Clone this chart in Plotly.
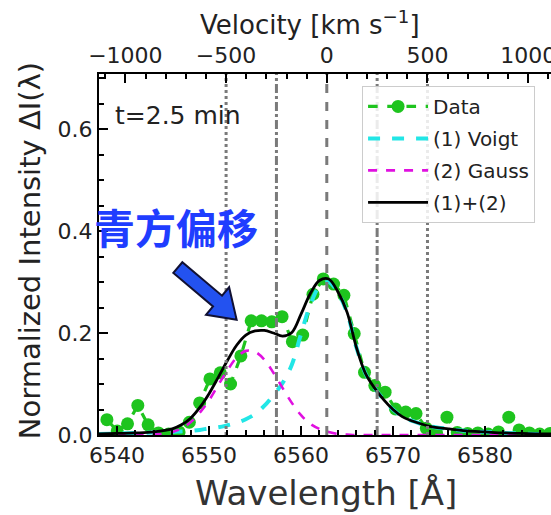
import plotly.graph_objects as go

# ---------------- data ----------------
wavelength_data = [6538.90, 6540.02, 6541.14, 6542.26, 6543.38, 6544.50, 6545.62, 6546.74,
                   6547.86, 6548.98, 6550.10, 6551.22, 6552.34, 6553.46, 6554.58, 6555.70,
                   6556.82, 6557.94, 6559.06, 6560.18, 6561.30, 6562.42, 6563.54, 6564.66,
                   6565.78, 6566.90, 6568.02, 6569.14, 6570.26, 6571.38, 6572.50, 6573.62,
                   6574.74, 6575.86, 6576.98, 6578.10, 6579.22, 6580.34, 6581.46, 6582.58,
                   6583.70, 6584.82, 6585.94, 6587.06]
intensity_data = [0.030, 0.008, 0.022, 0.058, 0.020, 0.004, 0.002, 0.006,
                  0.025, 0.063, 0.110, 0.122, 0.100, 0.155, 0.224, 0.224,
                  0.222, 0.232, 0.183, 0.196, 0.276, 0.306, 0.296, 0.274,
                  0.199, 0.123, 0.097, 0.084, 0.051, 0.045, 0.042, 0.013,
                  0.004, 0.035, 0.005, 0.003, 0.004, 0.002, 0.006, 0.035,
                  0.010, 0.004, 0.002, 0.003]

wavelength_fit = [6538, 6540, 6542, 6544, 6546, 6547, 6548, 6549, 6550, 6551, 6552, 6553,
                  6554, 6555, 6556, 6557, 6558, 6559, 6560, 6561, 6562, 6563, 6564, 6565,
                  6566, 6567, 6568, 6569, 6570, 6571, 6572, 6573, 6574, 6576, 6578, 6580,
                  6582, 6584, 6586, 6588]
voigt_fit = [0.002, 0.003, 0.004, 0.005, 0.006, 0.007, 0.008, 0.010, 0.013, 0.015, 0.019, 0.024,
             0.031, 0.041, 0.057, 0.078, 0.102, 0.138, 0.198, 0.255, 0.291, 0.300, 0.279, 0.240,
             0.173, 0.121, 0.092, 0.069, 0.050, 0.036, 0.028, 0.022, 0.017, 0.012, 0.008, 0.006,
             0.004, 0.003, 0.002, 0.002]
gauss_fit = [0.000, 0.000, 0.000, 0.001, 0.006, 0.013, 0.025, 0.044, 0.068, 0.098, 0.127, 0.152,
             0.165, 0.163, 0.148, 0.122, 0.092, 0.063, 0.039, 0.022, 0.012, 0.006, 0.002, 0.001,
             0.000, 0.000, 0.000, 0.000, 0.000, 0.000, 0.000, 0.000, 0.000, 0.000, 0.000, 0.000,
             0.000, 0.000, 0.000, 0.000]
total_fit = [0.002, 0.003, 0.004, 0.006, 0.012, 0.020, 0.033, 0.054, 0.081, 0.113, 0.146, 0.176,
             0.196, 0.204, 0.205, 0.200, 0.194, 0.201, 0.237, 0.277, 0.303, 0.306, 0.281, 0.241,
             0.173, 0.121, 0.092, 0.069, 0.050, 0.036, 0.028, 0.022, 0.017, 0.012, 0.008, 0.006,
             0.004, 0.003, 0.002, 0.002]

legend_names = ["Data", "(1) Voigt", "(2) Gauss", "(1)+(2)"]
velocity_lines = [-500, -250, 0, 250, 500]
velocity_dash = ["dot", "dashdot", "dash", "dashdot", "dot"]

x_ticks = [6540, 6550, 6560, 6570, 6580]
v_ticks = [-1000, -500, 0, 500, 1000]
y_ticks = [0.0, 0.2, 0.4, 0.6]

LAMBDA0 = 6562.8
C_KMS = 299792.458
x_range = [6538.04, 6587.17]
v_range = [(l - LAMBDA0) / LAMBDA0 * C_KMS for l in x_range]
y_range = [0, 0.708]

FONT = "DejaVu Sans"
TXT = "#222222"

fig = go.Figure()

# velocity marker lines (on the velocity axis)
for v, d in zip(velocity_lines, velocity_dash):
    fig.add_trace(go.Scatter(x=[v, v], y=y_range, xaxis="x2", mode="lines",
                             line=dict(color="#7a7a7a", width=3, dash=d),
                             showlegend=False, hoverinfo="skip"))

fig.add_trace(go.Scatter(x=wavelength_data, y=intensity_data, mode="lines+markers",
                         name=legend_names[0], legendgroup="a",
                         line=dict(color="#1ec41e", width=3.2, dash="dash"),
                         marker=dict(color="#1ec41e", size=13)))
fig.add_trace(go.Scatter(x=wavelength_fit, y=voigt_fit, mode="lines", name=legend_names[1],
                         legendgroup="b", line=dict(color="#22e6e6", width=4, dash="dash",
                                                    shape="spline", smoothing=1.0)))
fig.add_trace(go.Scatter(x=wavelength_fit, y=gauss_fit, mode="lines", name=legend_names[2],
                         legendgroup="c", line=dict(color="#e010e0", width=2.6, dash="dash",
                                                    shape="spline", smoothing=1.0)))
fig.add_trace(go.Scatter(x=wavelength_fit, y=total_fit, mode="lines", name=legend_names[3],
                         legendgroup="d", line=dict(color="black", width=2.8,
                                                    shape="spline", smoothing=1.0)))

tickfont = dict(family=FONT, size=22, color=TXT)
minor_common = dict(ticks="inside", ticklen=5, tickwidth=1.5, tickcolor="black")

fig.update_layout(
    width=551, height=515,
    margin=dict(l=99, r=0, t=74, b=80, autoexpand=False),
    paper_bgcolor="white", plot_bgcolor="white",
    font=dict(family=FONT, color=TXT),
    xaxis=dict(range=x_range, tickvals=x_ticks, ticks="inside", ticklen=9, tickwidth=1.5,
               tickcolor="black", showline=True, linecolor="black", linewidth=2,
               showgrid=False, zeroline=False, tickfont=tickfont, automargin=False,
               ticklabeloverflow="allow",
               minor=dict(dtick=2, **minor_common)),
    xaxis2=dict(range=v_range, overlaying="x", side="top", tickvals=v_ticks,
                ticktext=[("\u2212" + str(-t)) if t < 0 else str(t) for t in v_ticks],
                ticks="inside", ticklen=9, tickwidth=1.5, tickcolor="black",
                showline=True, linecolor="black", linewidth=2, showgrid=False,
                zeroline=False, tickfont=tickfont, ticklabeloverflow="allow",
                automargin=False,
                minor=dict(dtick=100, **minor_common)),
    yaxis=dict(range=y_range, tickvals=y_ticks, tickformat=".1f", ticks="inside", ticklen=9,
               tickwidth=1.5, tickcolor="black", showline=True, linecolor="black",
               linewidth=2, showgrid=False, zeroline=False, tickfont=tickfont,
               automargin=False,
               minor=dict(dtick=0.05, **minor_common)),
    legend=dict(x=0.582, y=0.967, xanchor="left", yanchor="top",
                bgcolor="rgba(255,255,255,0.85)", bordercolor="#cccccc", borderwidth=1,
                font=dict(family=FONT, size=20, color=TXT), itemwidth=60,
                tracegroupgap=3),
    showlegend=True,
)

# axis titles and texts
fig.add_annotation(text="Wavelength [Å]", xref="paper", yref="paper", x=0.502, y=-0.16,
                   xanchor="center", yanchor="middle", showarrow=False,
                   font=dict(family=FONT, size=34, color="#333333"))
fig.add_annotation(text="Velocity [km s<sup>\u22121</sup>]", xref="paper", yref="paper",
                   x=0.467, y=1.14, xanchor="center", yanchor="middle", showarrow=False,
                   font=dict(family=FONT, size=26, color=TXT))
fig.add_annotation(text="Normalized Intensity \u0394I(\u03bb)", xref="paper", yref="paper",
                   x=-0.152, y=0.51, xanchor="center", yanchor="middle", textangle=-90,
                   showarrow=False, font=dict(family=FONT, size=29, color=TXT))
fig.add_annotation(text="t=2.5 min", xref="paper", yref="paper", x=0.03, y=0.886,
                   xanchor="left", yanchor="middle", showarrow=False,
                   font=dict(family=FONT, size=25, color=TXT))
fig.add_annotation(text="<b>青方偏移</b>", xref="paper", yref="paper", x=-0.016, y=0.578,
                   xanchor="left", yanchor="middle", showarrow=False,
                   font=dict(family="Noto Sans CJK SC", size=41, color="#1f3dff"))

# block arrow pointing at the blue-shifted shoulder
fig.add_shape(type="path", xref="x", yref="y", xsizemode="pixel", ysizemode="pixel",
              xanchor=6553.0, yanchor=0.226,
              path="M0,0 L-7.5,32.5 L-14.6,24.1 L-54.3,57.5 L-63.3,46.8 L-23.6,13.4 L-30.6,5.0 Z",
              fillcolor="#2352f0", line=dict(color="#111133", width=2))

fig.write_html("out.html")
